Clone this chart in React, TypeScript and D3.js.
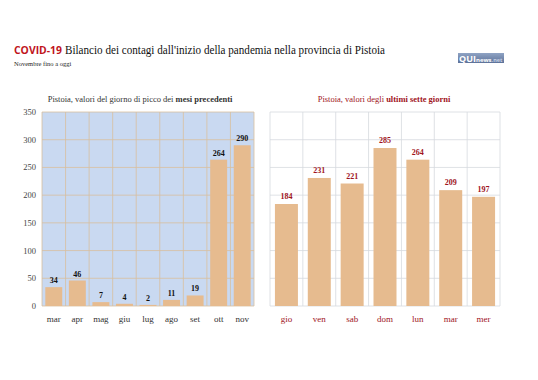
import React from "react";
import * as d3 from "d3";

const monthCats = ["mar", "apr", "mag", "giu", "lug", "ago", "set", "ott", "nov"];
const monthValues = [34, 46, 7, 4, 2, 11, 19, 264, 290];
const dayCats = ["gio", "ven", "sab", "dom", "lun", "mar", "mer"];
const dayValues = [184, 231, 221, 285, 264, 209, 197];
const yTicks = [0, 50, 100, 150, 200, 250, 300, 350];

const SERIF = "'Liberation Serif', 'DejaVu Serif', serif";
const BAR = "#e6bb8f";
const RED = "#a0141c";

export default function App() {
  const W = 538, H = 380;
  const top = 112, bottom = 306;
  const y = d3.scaleLinear().domain([0, 350]).range([bottom, top]);

  const xL = d3.scaleBand().domain(monthCats).range([42, 254]).paddingInner(0.28).paddingOuter(0.14);
  const xR = d3.scaleBand().domain(dayCats).range([270, 500]).paddingInner(0.3).paddingOuter(0.15);
  const stepL = (254 - 42) / monthCats.length;
  const stepR = (500 - 270) / dayCats.length;

  return (
    <svg width={W} height={H} style={{ display: "block", position: "absolute", left: 0, top: 0 }}>
      <rect width={W} height={H} fill="#fff" />
      {/* Title */}
      <text x={14} y={54} fontFamily="'Open Sans', sans-serif" fontWeight="bold" fill="#c0141c" fontSize={11} textLength={48} lengthAdjust="spacingAndGlyphs">COVID-19</text>
      <text x={65} y={54} fontSize={13} fontFamily={SERIF} fill="#111" textLength={320} lengthAdjust="spacingAndGlyphs">
        Bilancio dei contagi dall'inizio della pandemia nella provincia di Pistoia
      </text>
      <text x={14} y={66} fontSize={6.5} fontFamily={SERIF} fill="#222">Novembre fino a oggi</text>
      {/* Logo */}
      <defs>
        <linearGradient id="lg" x1="0" y1="0" x2="0" y2="1">
          <stop offset="0" stopColor="#8fa3c4" />
          <stop offset="1" stopColor="#5d7299" />
        </linearGradient>
      </defs>
      <rect x={458} y={53} width={46} height={10} fill="url(#lg)" />
      <text x={459} y={62} fontFamily="'Open Sans', sans-serif" fontSize={9} fontWeight="bold" fill="#fff">
        QUI<tspan fontSize={6}>news</tspan><tspan fontSize={5.5} fill="#c7d2e6">.net</tspan>
      </text>

      {/* Left panel */}
      <text x={140} y={102} textAnchor="middle" fontFamily={SERIF} fontSize={8.5} fill="#333">
        Pistoia, valori del giorno di picco dei <tspan fontWeight="bold">mesi precedenti</tspan>
      </text>
      <rect x={42} y={top} width={212} height={bottom - top} fill="#c9d9f1" />
      {yTicks.map((t) => (
        <g key={t}>
          <line x1={42} x2={254} y1={y(t)} y2={y(t)} stroke="#d8bf9e" strokeWidth={0.8} />
          <text x={36} y={y(t) + 3} textAnchor="end" fontFamily={SERIF} fontSize={8.5} fill="#444">{t}</text>
        </g>
      ))}
      {d3.range(monthCats.length + 1).map((i) => (
        <line key={i} x1={42 + i * stepL} x2={42 + i * stepL} y1={top} y2={bottom} stroke="#d8bf9e" strokeWidth={0.8} />
      ))}
      {monthCats.map((c, i) => (
        <g key={c}>
          <rect x={xL(c)} y={y(monthValues[i])} width={xL.bandwidth()} height={bottom - y(monthValues[i])} fill={BAR} />
          <text x={xL(c)! + xL.bandwidth() / 2} y={y(monthValues[i]) - 4} textAnchor="middle" fontFamily={SERIF} fontSize={8} fontWeight="bold" fill="#111">{monthValues[i]}</text>
          <text x={xL(c)! + xL.bandwidth() / 2} y={322} textAnchor="middle" fontFamily={SERIF} fontSize={9} fill="#333">{c}</text>
        </g>
      ))}

      {/* Right panel */}
      <text x={384} y={102} textAnchor="middle" fontFamily={SERIF} fontSize={8.5} fill={RED}>
        Pistoia, valori degli <tspan fontWeight="bold">ultimi sette giorni</tspan>
      </text>
      {yTicks.map((t) => (
        <line key={t} x1={270} x2={500} y1={y(t)} y2={y(t)} stroke="#d6d9de" strokeWidth={0.8} />
      ))}
      {d3.range(dayCats.length + 1).map((i) => (
        <line key={i} x1={270 + i * stepR} x2={270 + i * stepR} y1={top} y2={bottom} stroke="#d6d9de" strokeWidth={0.8} />
      ))}
      {dayCats.map((c, i) => (
        <g key={c}>
          <rect x={xR(c)} y={y(dayValues[i])} width={xR.bandwidth()} height={bottom - y(dayValues[i])} fill={BAR} />
          <text x={xR(c)! + xR.bandwidth() / 2} y={y(dayValues[i]) - 5} textAnchor="middle" fontFamily={SERIF} fontSize={8} fontWeight="bold" fill={RED}>{dayValues[i]}</text>
          <text x={xR(c)! + xR.bandwidth() / 2} y={322} textAnchor="middle" fontFamily={SERIF} fontSize={9} fill={RED}>{c}</text>
        </g>
      ))}
    </svg>
  );
}
